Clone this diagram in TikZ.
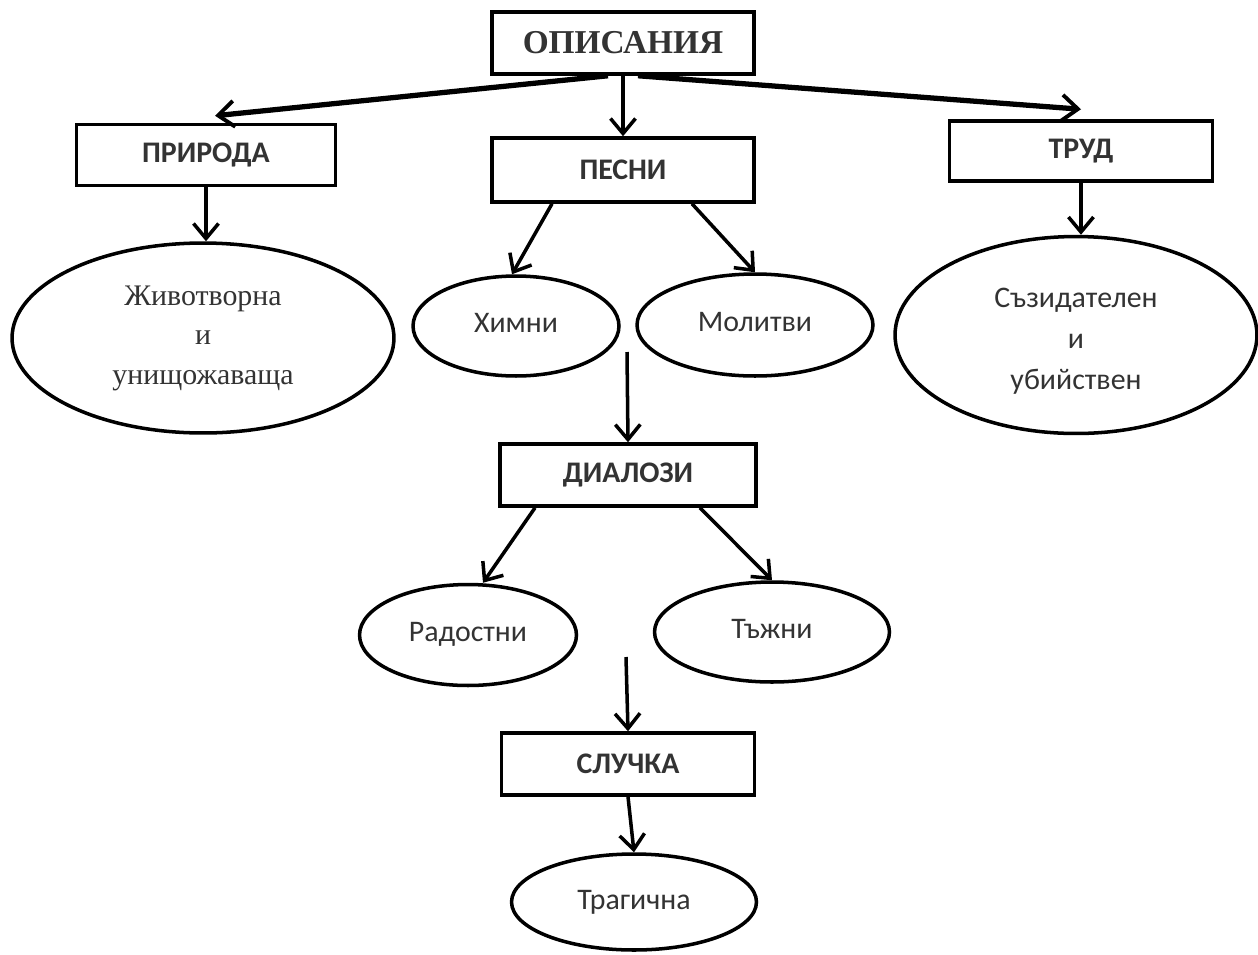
\documentclass[tikz,border=0pt]{standalone}
\usepackage{fontspec}
\setmainfont{Liberation Serif}
\newfontfamily\calfont{Carlito}
\usetikzlibrary{arrows.meta,shapes.geometric}
\begin{document}
\begin{tikzpicture}[x=0.02cm,y=-0.02cm,
  boxnode/.style={draw,line width=2pt,rectangle,inner sep=0pt,text=black!80,font=\calfont\bfseries\fontsize{17}{20}\selectfont},
  ovalnode/.style={draw,line width=2pt,ellipse,inner sep=0pt,text=black!80,font=\calfont\fontsize{17}{20}\selectfont},
  arr/.style={line width=2pt,-{Straight Barb[length=0.3cm,width=0.5cm,line width=2pt]}},
  thickarr/.style={line width=3pt,-{Straight Barb[length=0.32cm,width=0.52cm,line width=2.2pt]}}]
\useasboundingbox (0,0) rectangle (1258,954);
\fill[white] (0,0) rectangle (1258,954);
% boxes
\node[boxnode,minimum width=5.24cm,minimum height=1.24cm,font=\bfseries\fontsize{19}{22}\selectfont] (opis) at (623,43) {ОПИСАНИЯ};
\node[boxnode,minimum width=5.18cm,minimum height=1.22cm] (priroda) at (206,155) {ПРИРОДА};
\node[boxnode,minimum width=5.24cm,minimum height=1.28cm] (pesni) at (623,170) {ПЕСНИ};
\node[boxnode,minimum width=5.26cm,minimum height=1.20cm] (trud) at (1081,151) {ТРУД};
\node[boxnode,minimum width=5.12cm,minimum height=1.24cm] (dialozi) at (628,475) {ДИАЛОЗИ};
\node[boxnode,minimum width=5.06cm,minimum height=1.24cm] (sluchka) at (628,764) {СЛУЧКА};
% ellipses
\node[ovalnode,minimum width=7.64cm,minimum height=3.80cm,align=center,font=\fontsize{17}{22.5}\selectfont] (zhiv) at (203,338) {Животворна\\и\\унищожаваща};
\node[ovalnode,minimum width=4.12cm,minimum height=2.00cm] (himni) at (516,326) {\raisebox{0.4ex}{Химни}};
\node[ovalnode,minimum width=4.72cm,minimum height=2.04cm] (molitvi) at (755,325) {\raisebox{0.5ex}{Молитви}};
\node[ovalnode,minimum width=7.24cm,minimum height=3.94cm,align=center,font=\calfont\fontsize{17}{23.5}\selectfont] (sazid) at (1076,335) {\rule{0pt}{18pt}Съзидателен\\и\\убийствен};
\node[ovalnode,minimum width=4.34cm,minimum height=2.02cm] (rad) at (468,635) {\raisebox{0.4ex}{Радостни}};
\node[ovalnode,minimum width=4.70cm,minimum height=2.00cm] (tazh) at (772,632) {\raisebox{0.5ex}{Тъжни}};
\node[ovalnode,minimum width=4.90cm,minimum height=1.92cm] (trag) at (634,902) {\raisebox{0.2ex}{Трагична}};
% free ends
\coordinate (c1) at (627,352);
\coordinate (c2) at (626,657);
% connectors
\draw[thickarr] ([xshift=-0.3cm]opis.south) -- ([xshift=0.18cm,yshift=0.14cm]priroda.north);
\draw[thickarr] ([xshift=0.3cm]opis.south) -- ([yshift=0.2cm]trud.north);
\draw[arr] (opis.south) -- (pesni.north);
\draw[arr] (priroda.south) -- (priroda.south |- zhiv.north);
\draw[arr] (trud.south) -- (trud.south |- sazid.north);
\draw[arr] ([xshift=-1.42cm]pesni.south) -- ([xshift=-0.08cm]himni.north);
\draw[arr] ([xshift=1.38cm]pesni.south) -- (molitvi.north);
\draw[arr] (c1) -- (dialozi.north);
\draw[arr] ([xshift=-1.86cm]dialozi.south) -- ([xshift=0.3cm]rad.north);
\draw[arr] ([xshift=1.44cm]dialozi.south) -- (tazh.north);
\draw[arr] (c2) -- (sluchka.north);
\draw[arr] (sluchka.south) -- (trag.north);
\end{tikzpicture}
\end{document}
